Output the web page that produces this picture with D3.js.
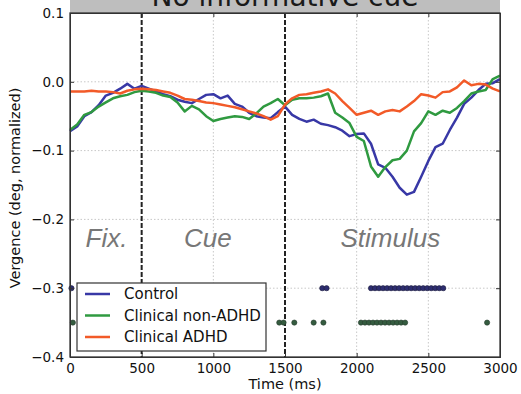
<!DOCTYPE html>
<html>

<head>
  <meta charset="utf-8">
  <style>
    body {
      margin: 0;
      background: #fff;
    }

    svg text {
      font-family: "DejaVu Sans", sans-serif;
    }

    svg text.phase {
      font-family: "Liberation Sans", Arial, sans-serif;
      font-style: italic;
    }

    .grid line {
      stroke: #c8c8c8;
      stroke-dasharray: 1.5, 2;
    }

    .axis path,
    .axis line {
      stroke: #333;
    }
  </style>
</head>

<body>
  <svg id="chart" width="521" height="394"></svg>

  <script src="https://d3js.org/d3.v7.min.js"></script>
  <script>
    var width = 521,
      height = 394,
      margin = { top: 13, right: 21, bottom: 37, left: 70 };

    // time grid (ms), one value per series per step
    var times = [0, 50, 100, 150, 200, 250, 300, 350, 400, 450, 500, 550, 600, 650, 700, 750, 800, 850, 900, 950,
      1000, 1050, 1100, 1150, 1200, 1250, 1300, 1350, 1400, 1450, 1500, 1550, 1600, 1650, 1700, 1750, 1800, 1850, 1900, 1950,
      2000, 2050, 2100, 2150, 2200, 2250, 2300, 2350, 2400, 2450, 2500, 2550, 2600, 2650, 2700, 2750, 2800, 2850, 2900, 2950, 3000];

    var control = [-0.072, -0.065, -0.050, -0.044, -0.034, -0.020, -0.016, -0.010, -0.003, -0.010,
      -0.006, -0.010, -0.014, -0.018, -0.021, -0.026, -0.029, -0.031, -0.025, -0.019,
      -0.018, -0.024, -0.020, -0.032, -0.036, -0.045, -0.050, -0.052, -0.053, -0.044,
      -0.036, -0.048, -0.054, -0.058, -0.055, -0.061, -0.063, -0.066, -0.071, -0.079,
      -0.076, -0.075, -0.090, -0.120, -0.125, -0.138, -0.154, -0.164, -0.160, -0.138,
      -0.115, -0.095, -0.090, -0.070, -0.052, -0.032, -0.023, -0.012, -0.003, -0.002, 0.004];

    var nonAdhd = [-0.070, -0.062, -0.048, -0.044, -0.036, -0.030, -0.024, -0.021, -0.019, -0.015,
      -0.013, -0.014, -0.016, -0.020, -0.022, -0.030, -0.043, -0.035, -0.040, -0.050,
      -0.057, -0.054, -0.052, -0.050, -0.051, -0.054, -0.046, -0.036, -0.031, -0.025,
      -0.034, -0.026, -0.024, -0.024, -0.023, -0.021, -0.017, -0.045, -0.052, -0.060,
      -0.080, -0.086, -0.123, -0.138, -0.124, -0.114, -0.112, -0.100, -0.072, -0.060,
      -0.043, -0.048, -0.042, -0.045, -0.038, -0.028, -0.017, -0.014, -0.012, 0.004, 0.009];

    var adhd = [-0.014, -0.014, -0.014, -0.013, -0.014, -0.014, -0.015, -0.017, -0.013, -0.011,
      -0.010, -0.011, -0.012, -0.014, -0.016, -0.020, -0.025, -0.026, -0.028, -0.030,
      -0.031, -0.033, -0.035, -0.037, -0.040, -0.043, -0.046, -0.050, -0.055, -0.050,
      -0.033, -0.024, -0.019, -0.018, -0.016, -0.014, -0.011, -0.017, -0.028, -0.038,
      -0.048, -0.045, -0.042, -0.048, -0.043, -0.041, -0.043, -0.036, -0.028, -0.018,
      -0.020, -0.023, -0.015, -0.014, -0.008, 0.002, -0.005, -0.003, -0.004, -0.010, -0.014];

    // significant time points (dots)
    var controlSig = [10, 1760, 1790, 2100, 2128, 2156, 2184, 2212, 2240, 2268, 2296, 2324, 2352,
      2380, 2408, 2436, 2464, 2492, 2520, 2548, 2576, 2604];
    var nonAdhdSig = [20, 1460, 1490, 1565, 1700, 1768, 2030, 2058, 2086, 2114, 2142, 2170, 2198,
      2226, 2254, 2282, 2310, 2338, 2910];

    var seriesNames = ['Control', 'Clinical non-ADHD', 'Clinical ADHD'];
    var colors = ['#3838a6', '#2f9a40', '#f25a28'];
    var xTicks = [0, 500, 1000, 1500, 2000, 2500, 3000];
    var yTicks = [0.1, 0.0, -0.1, -0.2, -0.3, -0.4];
    var events = [500, 1500];
    var phases = [{ label: 'Fix.', t: 255 }, { label: 'Cue', t: 962 }, { label: 'Stimulus', t: 2235 }];

    var svg = d3.select('#chart');
    var iw = width - margin.left - margin.right,
      ih = height - margin.top - margin.bottom;

    var x = d3.scaleLinear().domain([0, 3000]).range([0, iw]);
    var y = d3.scaleLinear().domain([-0.4, 0.1]).range([ih, 0]);

    // title band (cut off at top, like the source)
    svg.append('rect')
      .attr('x', margin.left).attr('y', -30)
      .attr('width', iw).attr('height', margin.top + 30)
      .attr('fill', '#bebebe');
    svg.append('text')
      .attr('x', margin.left + iw / 2).attr('y', 6)
      .attr('text-anchor', 'middle')
      .attr('font-size', 28)
      .attr('fill', '#1a1a1a')
      .text('No informative cue');

    var g = svg.append('g').attr('transform', 'translate(' + margin.left + ',' + margin.top + ')');

    // grid
    var grid = g.append('g').attr('class', 'grid');
    grid.selectAll('line.gx').data(xTicks.slice(1, -1)).join('line')
      .attr('x1', d => x(d)).attr('x2', d => x(d)).attr('y1', 0).attr('y2', ih);
    grid.selectAll('line.gy').data(yTicks.slice(1, -1)).join('line')
      .attr('class', 'gy')
      .attr('x1', 0).attr('x2', iw).attr('y1', d => y(d)).attr('y2', d => y(d));

    // phase labels
    g.selectAll('text.phase').data(phases).join('text')
      .attr('class', 'phase')
      .attr('x', d => x(d.t)).attr('y', y(-0.24))
      .attr('text-anchor', 'middle')
      .attr('font-size', 26)
      .attr('fill', '#777')
      .text(d => d.label);

    // event lines
    g.selectAll('line.event').data(events).join('line')
      .attr('class', 'event')
      .attr('x1', d => x(d)).attr('x2', d => x(d)).attr('y1', 0).attr('y2', ih)
      .attr('stroke', '#222').attr('stroke-width', 2)
      .attr('stroke-dasharray', '5,2');

    // curves
    var line = d3.line()
      .x((d, i) => x(times[i]))
      .y(d => y(d));

    [control, nonAdhd, adhd].forEach(function (vals, i) {
      g.append('path')
        .datum(vals)
        .attr('d', line)
        .attr('fill', 'none')
        .attr('stroke', colors[i])
        .attr('stroke-width', 2.5)
        .attr('stroke-linejoin', 'round');
    });

    // significance dots
    g.selectAll('circle.c').data(controlSig).join('circle')
      .attr('class', 'c')
      .attr('cx', d => x(d)).attr('cy', y(-0.3)).attr('r', 2.6)
      .attr('fill', '#2d2d70').attr('stroke', '#1f1f3c').attr('stroke-width', 0.6);
    g.selectAll('circle.n').data(nonAdhdSig).join('circle')
      .attr('class', 'n')
      .attr('cx', d => x(d)).attr('cy', y(-0.35)).attr('r', 2.6)
      .attr('fill', '#355c40').attr('stroke', '#253a2b').attr('stroke-width', 0.6);

    // axes
    var xAxis = d3.axisBottom(x).tickValues(xTicks).tickSize(-4).tickPadding(6).tickFormat(d3.format('d'));
    var yAxis = d3.axisLeft(y).tickValues(yTicks).tickSize(-4).tickPadding(6).tickFormat(d3.format('.1f'));

    var gx = g.append('g').attr('class', 'axis').attr('transform', 'translate(0,' + ih + ')').call(xAxis);
    var gy = g.append('g').attr('class', 'axis').call(yAxis);
    g.append('g').attr('class', 'axis').call(d3.axisTop(x).tickValues(xTicks).tickSize(-4).tickFormat(''));
    g.append('g').attr('class', 'axis').attr('transform', 'translate(' + iw + ',0)')
      .call(d3.axisRight(y).tickValues(yTicks).tickSize(-4).tickFormat(''));

    [gx, gy].forEach(function (a) {
      a.selectAll('text').attr('font-size', 13.5).attr('fill', '#111');
    });
    gy.selectAll('text').text(d => d3.format('.1f')(d).replace('-', '\u2212'));

    g.append('rect')
      .attr('width', iw).attr('height', ih)
      .attr('fill', 'none').attr('stroke', '#333').attr('stroke-width', 1.3);

    // legend
    var lg = svg.append('g').attr('transform', 'translate(77,283)');
    lg.append('rect')
      .attr('width', 189).attr('height', 68)
      .attr('fill', '#fff').attr('stroke', '#333').attr('stroke-width', 1.2);
    var items = lg.selectAll('g.item').data(seriesNames).join('g')
      .attr('class', 'item')
      .attr('transform', (d, i) => 'translate(0,' + (11 + i * 21.5) + ')');
    items.append('line')
      .attr('x1', 8).attr('x2', 33)
      .attr('stroke', (d, i) => colors[i]).attr('stroke-width', 2.5);
    items.append('text')
      .attr('x', 47).attr('y', 5)
      .attr('font-size', 15).attr('fill', '#111')
      .text(d => d);

    // axis labels
    svg.append('text')
      .attr('x', margin.left + iw / 2).attr('y', 389)
      .attr('text-anchor', 'middle')
      .attr('font-size', 14.5).attr('fill', '#111')
      .text('Time (ms)');
    svg.append('text')
      .attr('transform', 'translate(20,' + (margin.top + ih / 2 + 3) + ') rotate(-90)')
      .attr('text-anchor', 'middle')
      .attr('font-size', 14.5).attr('fill', '#111')
      .text('Vergence (deg, normalized)');
  </script>
</body>

</html>
